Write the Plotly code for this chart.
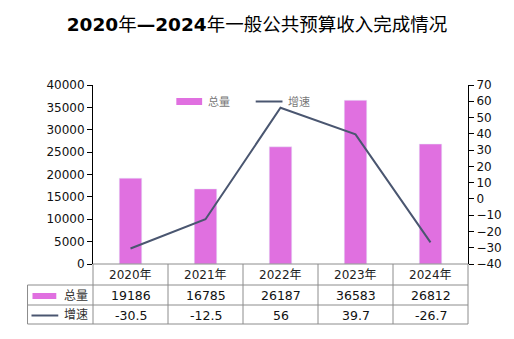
import plotly.graph_objects as go

years = ["2020年", "2021年", "2022年", "2023年", "2024年"]
total = [19186, 16785, 26187, 36583, 26812]
growth = [-30.5, -12.5, 56, 39.7, -26.7]
growth_labels = ["-30.5", "-12.5", "56", "39.7", "-26.7"]
series_names = ["总量", "增速"]

BAR_COLOR = "#E070E0"
LINE_COLOR = "#4A5670"
GRID = "#8C8C8C"
FONT = "DejaVu Sans, Noto Sans CJK SC, sans-serif"

W, H = 514, 339
L, R, T, B = 93, 471, 85, 264
pw, ph = R - L, B - T

def px(x):
    return (x - L) / pw

def py(y):
    return (B - y) / ph

fig = go.Figure()
fig.add_trace(go.Bar(x=years, y=total, name=series_names[0], marker_color=BAR_COLOR,
                     width=0.3, showlegend=False))
fig.add_trace(go.Scatter(x=years, y=growth, name=series_names[1], mode="lines",
                         line=dict(color=LINE_COLOR, width=2), yaxis="y2", showlegend=False))

shapes = []
annotations = []

row_lines = [264, 285, 305, 324]
col_lines = [L + i * pw / 5 for i in range(6)]
left_edge = 27
line_style = dict(color=GRID, width=1)
shapes.append(dict(type="line", xref="paper", yref="paper", x0=px(L), x1=px(R), y0=py(264), y1=py(264), line=line_style))
for yy in row_lines[1:]:
    shapes.append(dict(type="line", xref="paper", yref="paper", x0=px(left_edge), x1=px(R), y0=py(yy), y1=py(yy), line=line_style))
for xx in col_lines:
    shapes.append(dict(type="line", xref="paper", yref="paper", x0=px(xx), x1=px(xx), y0=py(264), y1=py(324), line=line_style))
shapes.append(dict(type="line", xref="paper", yref="paper", x0=px(left_edge), x1=px(left_edge), y0=py(285), y1=py(324), line=line_style))

def ann(x, xref, y, text, size, color, xanchor="center"):
    return dict(x=x, xref=xref, y=y, yref="paper", text=text, showarrow=False,
                xanchor=xanchor, yanchor="middle",
                font=dict(size=size, color=color, family=FONT))

for i, yr in enumerate(years):
    annotations.append(ann(yr, "x", py(274.5), yr, 12, "#222"))
    annotations.append(ann(yr, "x", py(295.5), str(total[i]), 12.5, "#111"))
    annotations.append(ann(yr, "x", py(315), growth_labels[i], 12.5, "#111"))

shapes.append(dict(type="rect", xref="paper", yref="paper", x0=px(32), x1=px(56), y0=py(299), y1=py(293),
                   fillcolor=BAR_COLOR, line=dict(width=0)))
shapes.append(dict(type="line", xref="paper", yref="paper", x0=px(31), x1=px(58), y0=py(315.5), y1=py(315.5),
                   line=dict(color=LINE_COLOR, width=2)))
annotations.append(ann(px(76), "paper", py(295.5), series_names[0], 12, "#333"))
annotations.append(ann(px(76), "paper", py(315), series_names[1], 12, "#333"))

shapes.append(dict(type="rect", xref="paper", yref="paper", x0=px(177), x1=px(203), y0=py(105), y1=py(98),
                   fillcolor=BAR_COLOR, line=dict(width=0)))
shapes.append(dict(type="line", xref="paper", yref="paper", x0=px(257), x1=px(284), y0=py(101.5), y1=py(101.5),
                   line=dict(color=LINE_COLOR, width=2)))
annotations.append(ann(px(207), "paper", py(101.5), series_names[0], 11, "#777", xanchor="left"))
annotations.append(ann(px(288), "paper", py(101.5), series_names[1], 11, "#777", xanchor="left"))

fig.update_layout(
    width=W, height=H,
    margin=dict(l=L, r=W - R, t=T, b=H - B),
    paper_bgcolor="white", plot_bgcolor="white",
    title=dict(text="<b>2020</b>年<b>—2024</b>年一般公共预算收入完成情况", x=0.5, xanchor="center",
               y=1 - 25 / H, yanchor="middle", font=dict(size=18.5, color="#000", family=FONT)),
    xaxis=dict(showticklabels=False, showline=False, ticks="", showgrid=False, zeroline=False),
    yaxis=dict(range=[0, 40000], dtick=5000, tickformat="d", showgrid=False, zeroline=False, showline=True,
               linecolor="#000", linewidth=1, ticks="outside", ticklen=5, tickcolor="#000",
               tickfont=dict(size=12, color="#111", family=FONT)),
    yaxis2=dict(range=[-40, 70], dtick=10, overlaying="y", side="right", showgrid=False, zeroline=False,
                showline=True, linecolor="#000", linewidth=1, ticks="outside", ticklen=5, tickcolor="#000",
                tickfont=dict(size=12, color="#111", family=FONT)),
    shapes=shapes, annotations=annotations,
    font=dict(family=FONT),
)

fig.write_html("out.html")
